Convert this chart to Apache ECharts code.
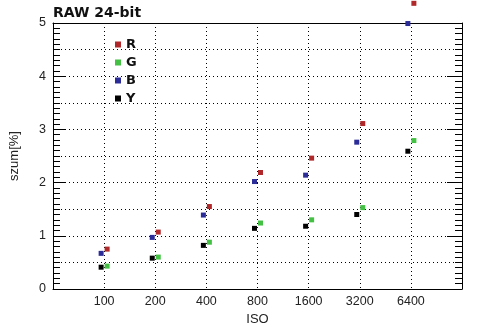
<!DOCTYPE html>
<html>
<head>
<meta charset="utf-8">
<script src="https://cdn.jsdelivr.net/npm/echarts@6/dist/echarts.min.js"></script>
<style>
  html, body { margin: 0; padding: 0; background: #fff; }
</style>
</head>
<body>
<div id="chart" style="width: 494px; height: 331px;"></div>
<script>
// ISO categories (log2 spaced on the x axis)
var isoLabels = ["100", "200", "400", "800", "1600", "3200", "6400"];

// szum [%] per channel
var rData = [0.75, 1.07, 1.55, 2.19, 2.46, 3.11, 5.37];
var gData = [0.43, 0.60, 0.88, 1.24, 1.30, 1.53, 2.79];
var bData = [0.67, 0.97, 1.39, 2.02, 2.14, 2.76, 4.99];
var yData = [0.41, 0.58, 0.82, 1.14, 1.18, 1.40, 2.59];

var yTicks = [0, 1, 2, 3, 4, 5];

function pts(vals) {
  var out = [];
  for (var i = 0; i < vals.length; i++) {
    out.push([i, vals[i]]);
  }
  return out;
}

var labelFont = { fontFamily: "Liberation Sans", fontSize: 12.5, color: "#222" };

function mkSeries(name, vals, color, shift) {
  return {
    name: name,
    type: "scatter",
    data: pts(vals),
    symbol: "rect",
    symbolSize: 5,
    symbolOffset: [shift, 0],
    itemStyle: { color: color, opacity: 1 },
    clip: false,
    animation: false,
    z: 5
  };
}

var chart = echarts.init(document.getElementById("chart"));
chart.setOption({
  animation: false,
  title: {
    text: "RAW 24-bit",
    left: 48,
    top: 1,
    textStyle: { fontFamily: "DejaVu Sans", fontSize: 14, fontWeight: "bold", color: "#111" }
  },
  legend: {
    orient: "vertical",
    left: 110,
    top: 33,
    itemWidth: 6,
    itemHeight: 6,
    itemGap: 5,
    icon: "rect",
    data: ["R", "G", "B", "Y"],
    textStyle: { fontFamily: "DejaVu Sans", fontSize: 13, fontWeight: "bold", color: "#111" }
  },
  grid: { left: 50, top: 23, right: 32, bottom: 42 },
  xAxis: [
    {
      type: "value",
      min: -1,
      max: 7,
      interval: 1,
      name: "ISO",
      nameLocation: "middle",
      nameGap: 21,
      nameTextStyle: { fontFamily: "Liberation Sans", fontSize: 13, color: "#222" },
      axisLine: { show: true, onZero: false, lineStyle: { color: "#000", width: 1 } },
      axisTick: { show: false },
      axisLabel: Object.assign({
        margin: 6,
        formatter: function (v) { return isoLabels[v] || ""; }
      }, labelFont),
      splitLine: { show: true, lineStyle: { color: "#000", type: [1, 3], width: 1 } }
    },
    {
      type: "value",
      position: "top",
      min: -1,
      max: 7,
      axisLine: { show: true, onZero: false, lineStyle: { color: "#000", width: 1 } },
      axisTick: { show: false },
      axisLabel: { show: false },
      splitLine: { show: false }
    }
  ],
  yAxis: [
    {
      type: "value",
      position: "left",
      min: yTicks[0],
      max: yTicks[yTicks.length - 1],
      interval: 1,
      name: "szum[%]",
      nameLocation: "middle",
      nameGap: 32,
      nameTextStyle: { fontFamily: "Liberation Sans", fontSize: 13, color: "#222" },
      axisLine: { show: true, onZero: false, lineStyle: { color: "#000", width: 1 } },
      axisTick: { show: true, inside: true, length: 13, lineStyle: { color: "#000" } },
      minorTick: { show: true, splitNumber: 10, length: 7, lineStyle: { color: "#000" } },
      axisLabel: Object.assign({ margin: 7 }, labelFont),
      splitLine: { show: false }
    },
    {
      type: "value",
      position: "right",
      min: 0,
      max: 5,
      interval: 1,
      axisLine: { show: true, onZero: false, lineStyle: { color: "#000", width: 1 } },
      axisTick: { show: true, inside: true, length: 15, lineStyle: { color: "#000" } },
      minorTick: { show: true, splitNumber: 10, length: 7, lineStyle: { color: "#000" } },
      axisLabel: { show: false },
      splitLine: { show: false }
    },
    {
      // only for the dotted grid every 0.5
      type: "value",
      position: "left",
      min: 0,
      max: 5,
      interval: 0.5,
      axisLine: { show: false, onZero: false },
      axisTick: { show: false },
      axisLabel: { show: false },
      splitLine: { show: true, lineStyle: { color: "#000", type: [1, 3], width: 1 } }
    }
  ],
  series: [
    mkSeries("R", rData, "#b0282a", 3),
    mkSeries("G", gData, "#44c044", 3),
    mkSeries("B", bData, "#2c2c98", -3),
    mkSeries("Y", yData, "#000000", -3)
  ]
});
</script>
</body>
</html>
